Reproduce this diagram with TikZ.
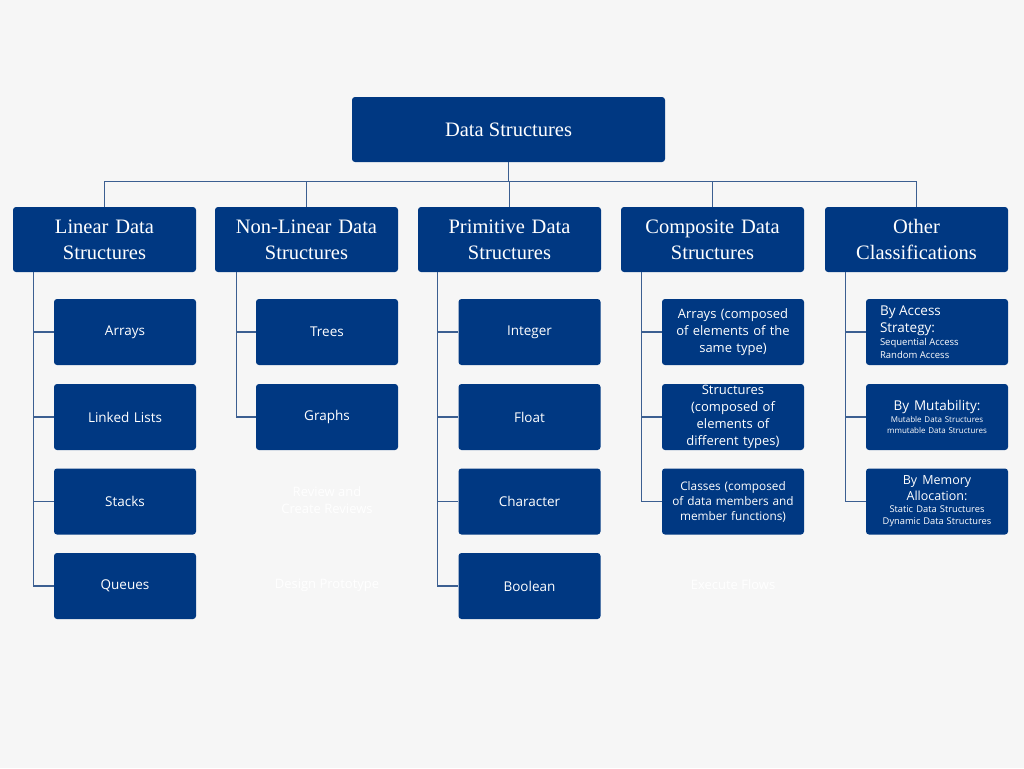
\documentclass[tikz,border=0pt]{standalone}
\usepackage{fontspec}
\setmainfont{Liberation Serif}
\newfontfamily\boxsans{Open Sans}
\definecolor{navy}{RGB}{0,56,130}
\definecolor{bgc}{RGB}{246,246,246}
\definecolor{wirec}{RGB}{60,95,145}
\newcommand{\sz}[2]{\fontsize{#1}{#2}\selectfont\spaceskip=0pt\xspaceskip=0pt\relax}
\begin{document}
\begin{tikzpicture}[x=1pt,y=-1pt,
  box/.style={fill=navy, rounded corners=3pt, text=white, inner ysep=0pt, align=center},
  topbox/.style={box, minimum width=313pt, minimum height=65pt, inner xsep=4pt, font=\fontsize{20.5}{24}\selectfont},
  catbox/.style={box, minimum width=183pt, minimum height=65pt, text width=171pt, inner xsep=6pt, font=\fontsize{20.5}{26}\selectfont},
  leafbox/.style={box, minimum width=142pt, minimum height=66pt, text width=130pt, inner xsep=6pt, font=\boxsans\fontsize{13.5}{17}\selectfont},
  wire/.style={draw=wirec, line width=1.2pt},
  ghost/.style={text=white, font=\boxsans\fontsize{13}{17}\selectfont, align=center, inner sep=0pt},
]
\fill[bgc] (0,0) rectangle (1024,768);
\useasboundingbox (0,0) rectangle (1024,768);

% root and categories
\node[topbox] (root) at (508.5,129.5) {Data Structures};
\node[catbox] (lin)  at (104.5,239.5) {Linear Data\\Structures};
\node[catbox] (non)  at (306.5,239.5) {Non-Linear Data\\Structures};
\node[catbox] (prim) at (509.5,239.5) {Primitive Data\\Structures};
\node[catbox] (comp) at (712.5,239.5) {Composite Data\\Structures};
\node[catbox] (oth)  at (916.5,239.5) {Other\\Classifications};

\foreach \c in {lin,non,prim,comp,oth}
  \draw[wire] (root.south) -- ++(0,19) -| (\c.north);

% linear
\node[leafbox] (arr) at (125,332)   {Arrays};
\node[leafbox] (ll)  at (125,417)   {Linked Lists};
\node[leafbox] (stk) at (125,501.5) {Stacks};
\node[leafbox] (que) at (125,586)   {Queues};
\foreach \c in {arr,ll,stk,que}
  \draw[wire] ([xshift=21pt]lin.south west) |- (\c.west);

% non-linear
\node[leafbox] (tree)  at (327,332) {Trees};
\node[leafbox] (graph) at (327,417) {Graphs};
\foreach \c in {tree,graph}
  \draw[wire] ([xshift=22pt]non.south west) |- (\c.west);

% primitive
\node[leafbox] (int)  at (529.5,332)   {Integer};
\node[leafbox] (flt)  at (529.5,417)   {Float};
\node[leafbox] (chr)  at (529.5,501.5) {Character};
\node[leafbox] (bool) at (529.5,586)   {Boolean};
\foreach \c in {int,flt,chr,bool}
  \draw[wire] ([xshift=20pt]prim.south west) |- (\c.west);

% composite
\node[leafbox, font=\boxsans\fontsize{13}{16.7}\selectfont] (carr) at (733,332)
  {Arrays (composed\\of elements of the\\same type)};
\node[leafbox, font=\boxsans\fontsize{13}{17}\selectfont] (cstr) at (733,417)
  {Structures\\(composed of\\elements of\\different types)};
\node[leafbox, font=\boxsans\fontsize{11.8}{15}\selectfont] (ccls) at (733,501.5)
  {Classes (composed\\of data members and\\member functions)};
\foreach \c in {carr,cstr,ccls}
  \draw[wire] ([xshift=21pt]comp.south west) |- (\c.west);

% other classifications
\node[leafbox, align=left, text width=114pt, inner xsep=14pt] (acc) at (937,332)
  {{\sz{13.5}{17.5}By Access\\Strategy:\par}%
   {\sz{9.5}{13}Sequential Access\\Random Access\par}};
\node[leafbox] (mut) at (937,417)
  {{\sz{13.5}{17}By Mutability:\par}%
   {\sz{8}{11.7}Mutable Data Structures\\mmutable Data Structures\par}};
\node[leafbox] (mem) at (937,501.5)
  {{\sz{12.5}{16}By Memory\\Allocation:\par}%
   {\sz{9.3}{12}Static Data Structures\\Dynamic Data Structures\par}};
\foreach \c in {acc,mut,mem}
  \draw[wire] ([xshift=21pt]oth.south west) |- (\c.west);

% faint background labels
\node[ghost] (g1) at (327,500.5) {Review and\\Create Reviews};
\node[ghost] (g2) at (327,585) {Design Prototype};
\node[ghost] (g3) at (733,585) {Execute Flows};
\end{tikzpicture}
\end{document}
